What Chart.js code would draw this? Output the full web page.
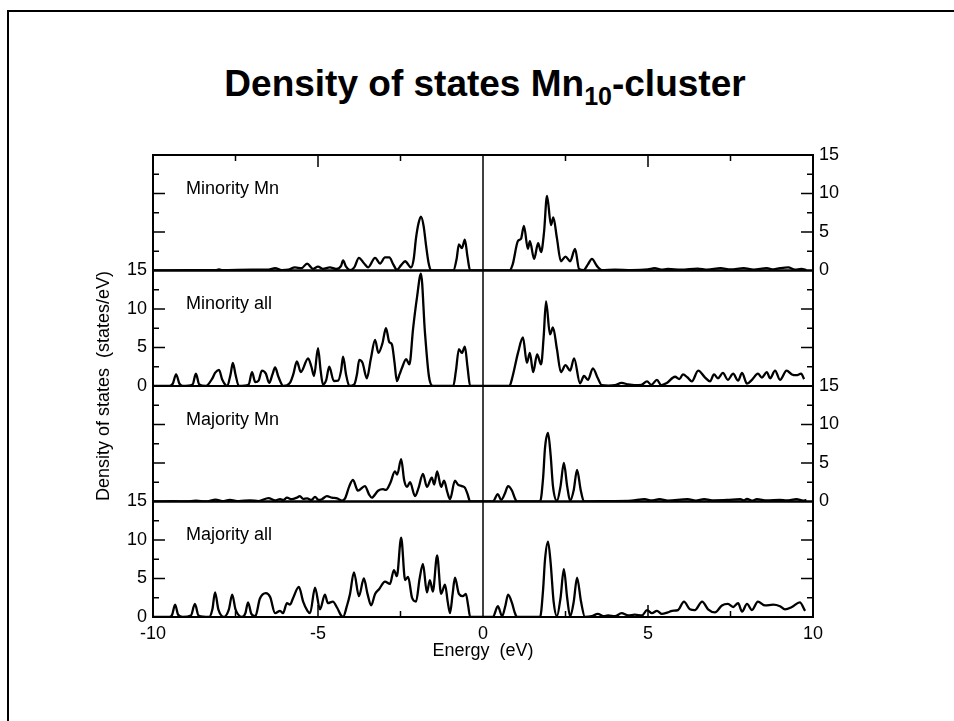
<!DOCTYPE html>
<html>
<head>
<meta charset="utf-8">
<title>Density of states Mn10-cluster</title>
<script src="https://cdn.jsdelivr.net/npm/chart.js@4.4.0/dist/chart.umd.min.js"></script>
<style>
  html, body { margin: 0; padding: 0; background: #fff; }
  #page { position: relative; width: 954px; height: 721px; overflow: hidden; }
  #frame { position: absolute; left: 7px; top: 10px; width: 2000px; height: 2000px;
           border-left: 2px solid #000; border-top: 2px solid #000; }
  #title { position: absolute; left: 8px; width: 954px; top: 63px; text-align: center;
           font: bold 37px "Liberation Sans", Arial, sans-serif; color: #000; }
  #title sub { font-size: 25px; vertical-align: -9px; line-height: 0; }
  #dos { position: absolute; left: 0; top: 0; }
</style>
</head>
<body>
<div id="page">
  <div id="frame"></div>
  <div id="title">Density of states Mn<sub>10</sub>-cluster</div>
  <canvas id="dos" width="954" height="721"></canvas>
</div>
<script>
// axis ticks
const energyTicks = [-10, -5, 0, 5, 10];
const energyInnerMajor = [-5, 5];
const energyInnerMinor = [-7.5, -2.5, 2.5, 7.5];
const dosMajor = [5, 10];
const dosMinor = [2.5, 7.5, 12.5];
const panelLabels = ['Minority Mn', 'Minority all', 'Majority Mn', 'Majority all'];

// Minority spin, Mn projected
const minorityMnE = [-10, -9.0, -8.1, -8.0, -7.9, -7.0, -6.5, -6.3, -6.1, -5.9, -5.7, -5.5, -5.33, -5.15, -5.0, -4.85,
  -4.64, -4.45, -4.3, -4.24, -4.15, -4.03, -3.9, -3.76, -3.6, -3.48, -3.27, -3.12, -2.97, -2.84, -2.72, -2.61,
  -2.48, -2.36, -2.18, -2.1, -2.03, -1.95, -1.88, -1.8, -1.73, -1.65, -1.58, -0.9, -0.8, -0.73, -0.64, -0.55,
  -0.47, -0.39, 0.8, 0.9, 1.06, 1.15, 1.24, 1.36, 1.42, 1.55, 1.67, 1.76, 1.85, 1.94, 2.06, 2.13, 2.24, 2.36,
  2.5, 2.64, 2.79, 2.91, 3.05, 3.18, 3.3, 3.45, 3.6, 4.0, 4.5, 5.0, 5.2, 5.4, 5.6, 6.0, 6.5, 6.8, 7.2, 7.5,
  7.9, 8.2, 8.6, 8.8, 9.0, 9.25, 9.45, 9.65, 9.8];
const minorityMnDos = [0, 0.05, 0.05, 0.15, 0.05, 0.1, 0.1, 0.3, 0.05, 0.1, 0.4, 0.3, 0.9, 0.2, 0.5, 0.2,
  0.4, 0.2, 0.6, 1.3, 0.5, 0.05, 0.4, 1.65, 0.9, 0.4, 1.65, 0.9, 1.7, 1.7, 0.8, 0.1,
  0.7, 1.2, 0.4, 1.5, 4.2, 6.2, 7.0, 5.8, 3.4, 1.0, 0.05, 0, 1.5, 3.4, 2.9, 4.0,
  1.8, 0, 0, 0.8, 3.85, 4.1, 5.8, 2.8, 3.8, 1.5, 3.55, 2.4, 5.0, 9.7, 5.9, 6.9, 4.2, 1.2,
  1.8, 1.2, 2.8, 0.2, 0.05, 0.8, 1.5, 0.6, 0.05, 0.1, 0.05, 0.15, 0.3, 0.1, 0.2, 0.1, 0.25, 0.1, 0.3, 0.15,
  0.3, 0.1, 0.3, 0.15, 0.3, 0.4, 0.1, 0.2, 0.05];

// Minority spin, all states
const minorityAllE = [-10, -9.5, -9.4, -9.3, -9.2, -9.1, -8.8, -8.7, -8.6, -8.4, -8.2, -8.12, -8.0, -7.9, -7.75,
  -7.65, -7.58, -7.5, -7.4, -7.1, -7.0, -6.9, -6.8, -6.7, -6.58, -6.48, -6.38, -6.3, -6.2, -6.05, -5.85, -5.75,
  -5.64, -5.52, -5.3, -5.2, -5.12, -5.0, -4.92, -4.85, -4.75, -4.66, -4.52, -4.39, -4.3, -4.24, -4.15, -4.05,
  -3.9, -3.82, -3.75, -3.65, -3.52, -3.4, -3.27, -3.17, -3.05, -2.94, -2.84, -2.76, -2.68, -2.61, -2.53, -2.45,
  -2.33, -2.23, -2.12, -2.0, -1.88, -1.76, -1.64, -1.52, -0.9, -0.82, -0.73, -0.64, -0.55, -0.47, -0.39,
  0.8, 0.9, 1.06, 1.21, 1.33, 1.42, 1.52, 1.64, 1.76, 1.84, 1.91, 2.03, 2.12, 2.24, 2.36, 2.5, 2.64, 2.76,
  2.94, 3.06, 3.18, 3.33, 3.48, 3.6, 3.8, 4.0, 4.2, 4.4, 4.6, 4.8, 4.97, 5.1, 5.27, 5.4, 5.57, 5.82, 5.95,
  6.06, 6.2, 6.33, 6.52, 6.73, 6.88, 7.0, 7.12, 7.27, 7.42, 7.58, 7.73, 7.85, 8.0, 8.15, 8.33, 8.45, 8.6,
  8.7, 8.85, 9.0, 9.2, 9.36, 9.5, 9.64, 9.73];
const minorityAllDos = [0, 0, 0.3, 1.5, 0.3, 0, 0.2, 1.6, 0.2, 0, 1.0, 1.7, 2.1, 0.8, 0,
  1.5, 3.0, 1.5, 0, 0.2, 1.8, 0.5, 0.7, 2.0, 1.6, 0.4, 1.5, 2.4, 1.2, 0, 0.4, 1.5,
  3.2, 1.8, 3.6, 2.5, 1.3, 4.9, 2.0, 0.2, 0.8, 2.5, 0.65, 0.7, 2.0, 3.8, 1.5, 0,
  0.2, 1.5, 3.4, 3.0, 1.0, 3.5, 6.0, 4.3, 5.5, 7.5, 5.7, 5.4, 3.0, 0.65, 1.5, 2.4,
  3.5, 2.8, 7.4, 11.5, 14.6, 7.0, 1.3, 0, 0, 2.0, 4.8, 4.3, 5.1, 2.5, 0,
  0, 1.3, 4.3, 6.3, 3.0, 4.3, 1.8, 4.1, 2.8, 6.5, 11.0, 6.7, 7.6, 4.8, 1.8, 2.7, 2.0, 3.6,
  0.35, 1.3, 0.8, 2.3, 1.0, 0.1, 0.05, 0.1, 0.4, 0.2, 0.1, 0.15, 0.6, 0.15, 0.8, 0.1, 0.4, 1.2, 0.9,
  1.5, 1.1, 0.6, 2.0, 1.1, 0.6, 1.5, 1.0, 1.7, 0.8, 1.6, 0.7, 1.7, 0.3, 0.8, 1.6, 1.1, 1.8,
  1.0, 2.0, 0.8, 2.0, 1.5, 1.4, 1.6, 0.9];

// Majority spin, Mn projected
const majorityMnE = [-10, -9.4, -9.0, -8.7, -8.4, -8.1, -7.9, -7.67, -7.4, -7.06, -6.8, -6.5, -6.3, -6.15, -6.05,
  -5.94, -5.8, -5.64, -5.55, -5.45, -5.33, -5.2, -5.09, -4.98, -4.88, -4.73, -4.58, -4.42, -4.27, -4.18, -4.05,
  -3.94, -3.79, -3.58, -3.45, -3.37, -3.18, -3.03, -2.94, -2.8, -2.67, -2.6, -2.48, -2.39, -2.3, -2.21, -2.06,
  -1.95, -1.82, -1.7, -1.55, -1.48, -1.39, -1.27, -1.18, -1.08, -1.0, -0.85, -0.76, -0.64, -0.55, -0.47, -0.39,
  0.3, 0.45, 0.55, 0.66, 0.76, 0.88, 0.96, 1.03, 1.73, 1.82, 1.88, 1.97, 2.05, 2.12, 2.24, 2.35, 2.45, 2.55,
  2.64, 2.75, 2.85, 2.96, 3.06, 3.5, 4.0, 4.5, 4.9, 5.1, 5.35, 5.6, 6.2, 6.45, 6.7, 7.0, 7.4, 7.8, 7.9, 8.0,
  8.15, 8.3, 8.6, 9.0, 9.2, 9.5, 9.7, 9.8];
const majorityMnDos = [0, 0.05, 0, 0.1, 0, 0.25, 0.05, 0.2, 0.05, 0.15, 0.05, 0.45, 0.15, 0.3, 0.2,
  0.5, 0.3, 0.5, 0.7, 0.35, 0.4, 0.2, 0.6, 0.2, 0.3, 0.7, 0.5, 0.4, 0.1, 0.4, 2.0,
  2.8, 1.4, 2.0, 0.9, 0.5, 1.4, 1.6, 1.5, 2.5, 3.9, 3.5, 5.5, 2.8, 1.9, 2.5, 0.7,
  1.8, 3.6, 1.9, 3.1, 2.2, 3.9, 1.9, 2.7, 1.2, 0.3, 2.7, 2.2, 2.0, 1.8, 1.0, 0,
  0, 0.95, 0.2, 1.0, 2.0, 1.4, 0.5, 0, 0, 3.0, 7.0, 8.9, 6.0, 2.0, 0.1, 2.0, 5.0, 2.0,
  0.1, 1.5, 4.1, 1.5, 0, 0.05, 0.05, 0.1, 0.3, 0.15, 0.3, 0.1, 0.3, 0.1, 0.3, 0.15, 0.2, 0.3, 0.15, 0.35,
  0.1, 0.3, 0.15, 0.2, 0.15, 0.3, 0.1, 0.2];

// Majority spin, all states
const majorityAllE = [-10, -9.5, -9.42, -9.33, -9.24, -9.1, -8.85, -8.73, -8.62, -8.3, -8.2, -8.12, -8.02, -7.85,
  -7.7, -7.6, -7.5, -7.3, -7.2, -7.12, -7.02, -6.9, -6.76, -6.58, -6.45, -6.3, -6.15, -6.06, -5.94, -5.85,
  -5.76, -5.58, -5.45, -5.32, -5.24, -5.09, -4.94, -4.79, -4.7, -4.55, -4.42, -4.3, -4.24, -4.12, -4.03, -3.91,
  -3.76, -3.61, -3.5, -3.39, -3.27, -3.15, -2.97, -2.82, -2.7, -2.61, -2.48, -2.36, -2.27, -2.15, -2.03, -1.92,
  -1.82, -1.7, -1.61, -1.52, -1.39, -1.27, -1.15, -1.07, -1.0, -0.92, -0.85, -0.73, -0.61, -0.52, -0.45, -0.39,
  0.3, 0.45, 0.58, 0.68, 0.76, 0.88, 0.96, 1.03, 1.73, 1.82, 1.88, 1.97, 2.05, 2.14, 2.24, 2.35, 2.45, 2.55,
  2.64, 2.75, 2.85, 2.97, 3.09, 3.3, 3.48, 3.65, 3.79, 4.0, 4.2, 4.4, 4.6, 4.82, 4.97, 5.12, 5.27, 5.42, 5.6,
  5.73, 5.91, 6.09, 6.27, 6.42, 6.64, 6.82, 7.03, 7.24, 7.42, 7.58, 7.73, 7.85, 8.0, 8.15, 8.33, 8.55, 8.79,
  9.0, 9.15, 9.36, 9.6, 9.76];
const majorityAllDos = [0, 0, 0.3, 1.6, 0.3, 0, 0.2, 1.7, 0.2, 0, 1.0, 3.2, 1.0, 0,
  1.0, 2.9, 1.0, 0, 0.5, 1.9, 0.4, 0.1, 2.4, 3.1, 2.6, 0.5, 0.8, 0.5, 1.8, 1.6,
  2.4, 3.9, 2.0, 0.8, 0.5, 3.8, 1.0, 2.9, 1.8, 2.0, 1.2, 0.2, 0, 1.5, 3.0, 5.8,
  2.7, 5.0, 3.0, 1.5, 3.0, 3.6, 4.6, 4.3, 6.1, 5.3, 10.3, 4.8, 5.2, 2.5, 2.0, 5.0,
  6.9, 3.2, 4.8, 3.3, 8.0, 3.0, 4.2, 2.0, 0.5, 3.0, 5.1, 3.0, 2.7, 3.0, 1.5, 0,
  0, 1.4, 0.1, 1.5, 2.9, 1.8, 0.6, 0, 0, 3.5, 7.5, 9.8, 7.0, 2.0, 0.1, 2.5, 6.2, 2.5,
  0.1, 2.0, 5.1, 2.0, 0, 0.1, 0.4, 0.1, 0.2, 0.1, 0.5, 0.2, 0.3, 0.2, 0.9, 0.5, 0.8, 0.4, 0.6,
  0.8, 0.9, 2.0, 1.0, 0.9, 2.0, 1.0, 0.6, 1.5, 1.7, 1.3, 1.8, 0.7, 1.7, 0.9, 2.0, 1.5, 1.6,
  1.4, 1.0, 1.3, 1.9, 0.8];

const seriesE = [minorityMnE, minorityAllE, majorityMnE, majorityAllE];
const seriesDos = [minorityMnDos, minorityAllDos, majorityMnDos, majorityAllDos];

const labelFont = { family: '"Liberation Sans", Arial, sans-serif', size: 18 };
const leftIds = ['yL1', 'yL2', 'yL3', 'yL4'];

function panelAxis(position, weight, showLabels) {
  return {
    type: 'linear',
    position: position,
    stack: position + 'Panels',
    weight: weight,
    min: 0,
    max: 15,
    grid: { display: false, drawTicks: false },
    border: { display: false },
    ticks: {
      display: showLabels,
      stepSize: 5,
      autoSkip: false,
      padding: 6,
      color: '#000',
      font: labelFont
    },
    afterFit: function(scale) { scale.width = position === 'left' ? 60 : 50; }
  };
}

const scales = {
  x: {
    type: 'linear',
    position: 'bottom',
    min: -10,
    max: 10,
    grid: { display: false, drawTicks: false },
    border: { display: false },
    ticks: {
      stepSize: 5,
      autoSkip: false,
      padding: 6,
      color: '#000',
      font: labelFont,
      maxRotation: 0,
      callback: v => energyTicks.includes(v) ? String(v) : ''
    },
    title: { display: true, text: 'Energy  (eV)', color: '#000', font: labelFont, padding: { top: 0, bottom: 5 } },
    afterFit: function(scale) { scale.height = 50; }
  }
};
// left: heavier weight is placed on top; right: lighter weight on top
scales.yL1 = panelAxis('left', 4, false);
scales.yL2 = panelAxis('left', 3, true);
scales.yL3 = panelAxis('left', 2, false);
scales.yL4 = panelAxis('left', 1, true);
scales.yR1 = panelAxis('right', 1, true);
scales.yR2 = panelAxis('right', 2, false);
scales.yR3 = panelAxis('right', 3, true);
scales.yR4 = panelAxis('right', 4, false);

const datasets = seriesE.map((energies, i) => ({
  label: panelLabels[i],
  data: energies.map((e, j) => ({ x: e, y: seriesDos[i][j] })),
  yAxisID: leftIds[i],
  borderColor: '#000',
  borderWidth: 2.3,
  pointRadius: 0,
  fill: false,
  cubicInterpolationMode: 'monotone'
}));

// frame, inward ticks, zero line and in-panel labels
const panelDecor = {
  id: 'panelDecor',
  afterDraw(chart) {
    const ctx = chart.ctx;
    const area = chart.chartArea;
    const xs = chart.scales.x;
    ctx.save();
    ctx.strokeStyle = '#000';
    ctx.fillStyle = '#000';

    // E = 0 line
    const x0 = xs.getPixelForValue(0);
    ctx.lineWidth = 1.5;
    ctx.beginPath();
    ctx.moveTo(x0, area.top);
    ctx.lineTo(x0, area.bottom);
    ctx.stroke();

    leftIds.forEach(id => {
      const s = chart.scales[id];
      ctx.beginPath();
      dosMajor.forEach(v => {
        const y = s.getPixelForValue(v);
        ctx.moveTo(area.left, y); ctx.lineTo(area.left + 12, y);
        ctx.moveTo(area.right, y); ctx.lineTo(area.right - 12, y);
      });
      dosMinor.forEach(v => {
        const y = s.getPixelForValue(v);
        ctx.moveTo(area.left, y); ctx.lineTo(area.left + 6, y);
        ctx.moveTo(area.right, y); ctx.lineTo(area.right - 6, y);
      });
      ctx.stroke();
    });

    ctx.beginPath();
    energyInnerMajor.forEach(v => {
      const x = xs.getPixelForValue(v);
      ctx.moveTo(x, area.top); ctx.lineTo(x, area.top + 12);
      ctx.moveTo(x, area.bottom); ctx.lineTo(x, area.bottom - 12);
    });
    energyInnerMinor.forEach(v => {
      const x = xs.getPixelForValue(v);
      ctx.moveTo(x, area.top); ctx.lineTo(x, area.top + 6);
      ctx.moveTo(x, area.bottom); ctx.lineTo(x, area.bottom - 6);
    });
    ctx.stroke();

    // panel frames
    ctx.lineWidth = 2;
    leftIds.forEach(id => {
      const s = chart.scales[id];
      ctx.strokeRect(area.left, s.top, area.right - area.left, s.bottom - s.top);
    });

    // panel labels
    ctx.font = '18px "Liberation Sans", Arial, sans-serif';
    ctx.textBaseline = 'middle';
    ctx.textAlign = 'left';
    leftIds.forEach((id, i) => {
      const s = chart.scales[id];
      ctx.fillText(panelLabels[i], area.left + 33, s.top + 34);
    });

    // y title
    const mid = chart.scales.yL2.bottom;
    ctx.translate(104, mid);
    ctx.rotate(-Math.PI / 2);
    ctx.textAlign = 'center';
    ctx.fillText('Density of states  (states/eV)', 0, 0);
    ctx.restore();
  }
};

new Chart(document.getElementById('dos'), {
  type: 'line',
  data: { datasets: datasets },
  options: {
    responsive: false,
    animation: false,
    layout: { padding: { left: 93, right: 91, top: 155, bottom: 54 } },
    plugins: { legend: { display: false }, tooltip: { enabled: false }, title: { display: false } },
    scales: scales
  },
  plugins: [panelDecor]
});
</script>
</body>
</html>
